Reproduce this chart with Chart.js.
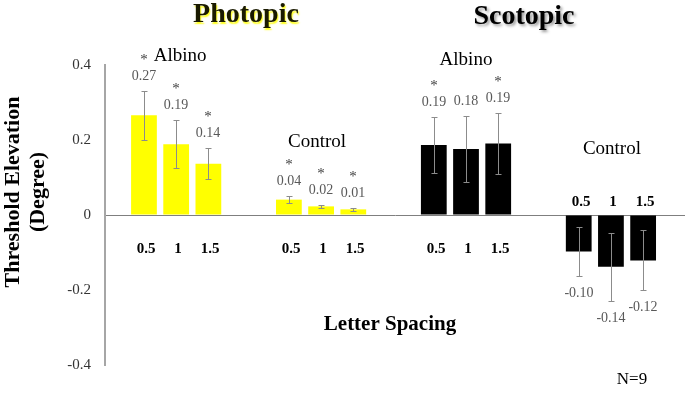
<!DOCTYPE html>
<html>
<head>
<meta charset="utf-8">
<script src="https://cdn.jsdelivr.net/npm/chart.js@4.4.1/dist/chart.umd.min.js"></script>
<style>
  html, body { margin: 0; padding: 0; background: #fff; }
  #wrap { width: 685px; height: 395px; position: relative; }
</style>
</head>
<body>
<div id="wrap"><canvas id="chart"></canvas></div>
<script>
// letter spacing levels and the four groups (photopic albino/control, scotopic albino/control)
const spacings = ['0.5', '1', '1.5'];
const conditions = ['Photopic', 'Scotopic'];
const groupNames = ['Albino', 'Control', 'Albino', 'Control'];

const photopicAlbino = [0.266, 0.189, 0.137];
const photopicControl = [0.041, 0.023, 0.015];
const scotopicAlbino = [0.187, 0.176, 0.191];
const scotopicControl = [-0.097, -0.138, -0.121];

// error bar half-lengths
const photopicAlbinoErr = [0.066, 0.064, 0.041];
const photopicControlErr = [0.009, 0.003, 0.003];
const scotopicAlbinoErr = [0.075, 0.087, 0.082];
const scotopicControlErr = [0.065, 0.090, 0.080];

// printed value labels and significance stars
const photopicAlbinoLbl = ['0.27', '0.19', '0.14'];
const photopicControlLbl = ['0.04', '0.02', '0.01'];
const scotopicAlbinoLbl = ['0.19', '0.18', '0.19'];
const scotopicControlLbl = ['-0.10', '-0.14', '-0.12'];

const photopicAlbinoSig = [true, true, true];
const photopicControlSig = [true, true, true];
const scotopicAlbinoSig = [true, false, true];
const scotopicControlSig = [false, false, false];

const yTicks = [-0.4, -0.2, 0, 0.2, 0.4];

const groups = [
  { name: groupNames[0], cond: 0, values: photopicAlbino, errs: photopicAlbinoErr, labels: photopicAlbinoLbl, sig: photopicAlbinoSig },
  { name: groupNames[1], cond: 0, values: photopicControl, errs: photopicControlErr, labels: photopicControlLbl, sig: photopicControlSig },
  { name: groupNames[2], cond: 1, values: scotopicAlbino, errs: scotopicAlbinoErr, labels: scotopicAlbinoLbl, sig: scotopicAlbinoSig },
  { name: groupNames[3], cond: 1, values: scotopicControl, errs: scotopicControlErr, labels: scotopicControlLbl, sig: scotopicControlSig },
];

const GROUP_STEP = 4.5; // slots between group starts
const condColors = ['#ffff00', '#000000'];
const serif = '"Liberation Serif", "Times New Roman", serif';

const points = [];
const colors = [];
groups.forEach((g, gi) => {
  g.values.forEach((v, i) => {
    points.push({ x: gi * GROUP_STEP + i, y: v });
    colors.push(condColors[g.cond]);
  });
});

function drawText(ctx, str, x, y, font, color, align = 'center') {
  ctx.font = font;
  ctx.fillStyle = color;
  ctx.textAlign = align;
  ctx.textBaseline = 'middle';
  ctx.fillText(str, x, y);
}

const overlay = {
  id: 'overlay',
  afterDatasetsDraw(chart) {
    const ctx = chart.ctx;
    const meta = chart.getDatasetMeta(0);
    const yS = chart.scales.y;
    const zero = yS.getPixelForValue(0);
    ctx.save();
    groups.forEach((g, gi) => {
      g.values.forEach((v, i) => {
        const x = Math.round(meta.data[gi * 3 + i].x);
        const e = g.errs[i];
        const yTop = Math.round(yS.getPixelForValue(v + e));
        const yBot = Math.round(yS.getPixelForValue(v - e));
        ctx.strokeStyle = '#8c8c8c';
        ctx.lineWidth = 1;
        ctx.beginPath();
        ctx.moveTo(x + 0.5, yTop); ctx.lineTo(x + 0.5, yBot);
        ctx.moveTo(x - 2.5, yTop + 0.5); ctx.lineTo(x + 3.5, yTop + 0.5);
        ctx.moveTo(x - 2.5, yBot + 0.5); ctx.lineTo(x + 3.5, yBot + 0.5);
        ctx.stroke();

        const ly = v >= 0 ? yTop - 15 : yBot + 17;
        drawText(ctx, g.labels[i], x, ly, '14px ' + serif, '#595959');
        if (g.sig[i]) drawText(ctx, '*', x, ly - 16, '15px ' + serif, '#404040');

        // spacing level under (or above, for negative groups) the zero line
        const sy = g.values[0] < 0 ? zero - 13 : zero + 34;
        drawText(ctx, spacings[i], x + 2, sy, 'bold 15px ' + serif, '#000');
      });
      // group name over middle bar
      const mid = meta.data[gi * 3 + 1].x;
      const nameY = [56, 142, 60, 149][gi];
      const nameDx = [4, -4, 0, 1][gi];
      drawText(ctx, g.name, mid + nameDx, nameY, '19px ' + serif, '#000');
    });
    ctx.restore();
  },
  afterDraw(chart) {
    const ctx = chart.ctx;
    ctx.save();
    // photopic title: dark letters with a thin yellow glow
    ctx.shadowColor = 'rgba(255,255,0,0.9)';
    ctx.shadowBlur = 1.5;
    ctx.shadowOffsetX = 1;
    ctx.shadowOffsetY = 1.5;
    drawText(ctx, conditions[0], 246, 15, 'bold 28px ' + serif, '#1a1a00');
    ctx.shadowColor = 'rgba(0,0,0,0.4)';
    ctx.shadowBlur = 3;
    ctx.shadowOffsetX = 2;
    ctx.shadowOffsetY = 2;
    drawText(ctx, conditions[1], 524, 17, 'bold 28px ' + serif, '#000');
    ctx.restore();

    ctx.save();
    drawText(ctx, 'Letter Spacing', 390, 325, 'bold 21px ' + serif, '#000');
    drawText(ctx, 'N=9', 632, 380, '17px ' + serif, '#000');
    // y axis title, two rotated lines
    ctx.translate(0, 192);
    ctx.rotate(-Math.PI / 2);
    drawText(ctx, 'Threshold Elevation', 0, 13, 'bold 22px ' + serif, '#000');
    drawText(ctx, '(Degree)', 0, 38, 'bold 22px ' + serif, '#000');
    ctx.restore();
  }
};

new Chart(document.getElementById('chart'), {
  type: 'bar',
  data: {
    datasets: [{
      data: points,
      backgroundColor: colors,
      borderWidth: 0,
      barPercentage: 0.8,
      categoryPercentage: 1,
    }],
  },
  options: {
    responsive: true,
    maintainAspectRatio: false,
    animation: false,
    layout: { padding: { top: 65, bottom: 30, left: 0, right: 0 } },
    plugins: {
      legend: { display: false },
      tooltip: { enabled: false },
    },
    scales: {
      x: {
        type: 'linear',
        display: false,
        offset: false,
        min: -1.21,
        max: 16.8,
      },
      y: {
        min: -0.4,
        max: 0.4,
        afterFit: s => { s.width = 105; },
        afterBuildTicks: s => { s.ticks = yTicks.map(v => ({ value: v })); },
        ticks: {
          color: '#333',
          padding: 14,
          font: { family: serif, size: 15 },
          callback: v => (v === 0 ? '0' : v.toFixed(1)),
        },
        grid: {
          drawTicks: false,
          color: ctx => (ctx.tick && ctx.tick.value === 0 ? '#7f7f7f' : 'transparent'),
        },
        border: { display: true, color: '#a6a6a6', width: 2 },
      },
    },
  },
  plugins: [overlay],
});
</script>
</body>
</html>
